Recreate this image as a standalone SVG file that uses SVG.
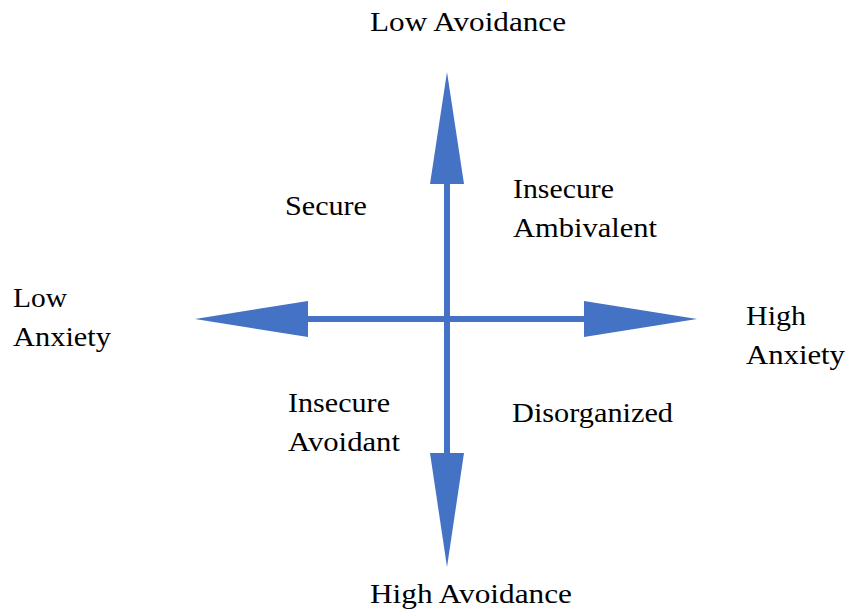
<svg xmlns="http://www.w3.org/2000/svg" width="846" height="616" viewBox="0 0 846 616">
<style>
.lbl{font-family:"Liberation Serif","Times New Roman",serif;font-size:28px;fill:#000}
.shaft{stroke:#4472C4;stroke-width:6;fill:none}
.head{fill:#4472C4}
</style>
<rect width="846" height="616" fill="#fff"/>
<g id="connectors">
<line class="shaft" x1="447" y1="180" x2="447" y2="457"/>
<line class="shaft" x1="304" y1="319" x2="588" y2="319"/>
<polygon class="head" points="447,72 464,184 430,184"/>
<polygon class="head" points="447,567 430,453 464,453"/>
<polygon class="head" points="195,319 308,301 308,337"/>
<polygon class="head" points="697,319 584,301 584,337"/>
</g>
<g id="low-avoidance"><text class="lbl" x="370" y="31" textLength="196" lengthAdjust="spacingAndGlyphs">Low Avoidance</text></g>
<g id="high-avoidance"><text class="lbl" x="370" y="603" textLength="202" lengthAdjust="spacingAndGlyphs">High Avoidance</text></g>
<g id="low-anxiety"><text class="lbl" x="13" y="307" textLength="54" lengthAdjust="spacingAndGlyphs">Low</text><text class="lbl" x="13" y="346" textLength="98" lengthAdjust="spacingAndGlyphs">Anxiety</text></g>
<g id="high-anxiety"><text class="lbl" x="746" y="325" textLength="60" lengthAdjust="spacingAndGlyphs">High</text><text class="lbl" x="746" y="364" textLength="99" lengthAdjust="spacingAndGlyphs">Anxiety</text></g>
<g id="secure"><text class="lbl" x="285" y="215" textLength="82" lengthAdjust="spacingAndGlyphs">Secure</text></g>
<g id="insecure-ambivalent"><text class="lbl" x="513" y="198" textLength="101" lengthAdjust="spacingAndGlyphs">Insecure</text><text class="lbl" x="513" y="237" textLength="144" lengthAdjust="spacingAndGlyphs">Ambivalent</text></g>
<g id="insecure-avoidant"><text class="lbl" x="288" y="412" textLength="102" lengthAdjust="spacingAndGlyphs">Insecure</text><text class="lbl" x="288" y="451" textLength="112" lengthAdjust="spacingAndGlyphs">Avoidant</text></g>
<g id="disorganized"><text class="lbl" x="512" y="422" textLength="161" lengthAdjust="spacingAndGlyphs">Disorganized</text></g>
</svg>
